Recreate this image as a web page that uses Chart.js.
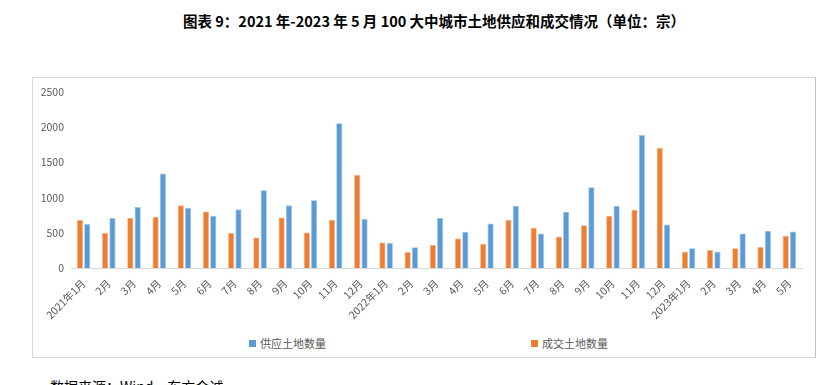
<!DOCTYPE html>
<html>
<head>
<meta charset="utf-8">
<script src="https://cdn.jsdelivr.net/npm/chart.js@4.4.1/dist/chart.umd.min.js"></script>
<style>
  body { margin: 0; background: #fff; width: 827px; height: 385px; overflow: hidden; position: relative;
         font-family: "Noto Sans CJK SC", "Noto Sans", sans-serif; }
  #title { position: absolute; left: 183px; top: 10px; font-size: 14.5px; font-weight: bold; color: #000; white-space: nowrap; }
  #box { position: absolute; left: 32px; top: 77px; width: 782px; height: 279px; border: 1px solid #d9d9d9; border-right-color: #bfbfbf; }
  #chart { position: absolute; left: 0; top: 0; }
  .lg { position: absolute; top: 258px; font-size: 11px; color: #595959; white-space: nowrap; line-height: 14px; }
  .lg i { display: inline-block; width: 7px; height: 7px; margin-right: 4px; vertical-align: 1px; }
  #src { position: absolute; left: 50px; top: 376px; font-size: 14px; color: #000; white-space: nowrap; }
</style>
</head>
<body>
<div id="title">图表 9：2021 年-2023 年 5 月 100 大中城市土地供应和成交情况（单位：宗）</div>
<div id="box">
  <canvas id="chart" width="782" height="250"></canvas>
  <div class="lg" style="left:216px"><i style="background:#5B9BD5"></i>供应土地数量</div>
  <div class="lg" style="left:498px"><i style="background:#ED7D31"></i>成交土地数量</div>
</div>
<div id="src">数据来源：Wind，东方金诚</div>
<script>
// 月份
var months = ['2021年1月', '2月', '3月', '4月', '5月', '6月', '7月', '8月', '9月', '10月', '11月', '12月',
    '2022年1月', '2月', '3月', '4月', '5月', '6月', '7月', '8月', '9月', '10月', '11月', '12月',
    '2023年1月', '2月', '3月', '4月', '5月'];
// 成交土地数量
var dealCount = [681, 500, 714, 724, 890, 804, 500, 433, 719, 505, 685, 1323,
    362, 228, 328, 419, 343, 681, 571, 447, 609, 743, 828, 1709,
    233, 257, 281, 300, 457];
// 供应土地数量
var supplyCount = [624, 709, 866, 1342, 857, 743, 833, 1104, 890, 962, 2056, 695,
    357, 295, 709, 514, 633, 885, 490, 800, 1147, 885, 1890, 619,
    281, 233, 490, 524, 519];
var yTicks = [0, 500, 1000, 1500, 2000, 2500];

var tickFont = { family: '"Noto Sans CJK SC", "Noto Sans", sans-serif', size: 10.5 };

new Chart(document.getElementById('chart'), {
    type: 'bar',
    data: {
        labels: months,
        datasets: [{
            label: '成交土地数量',
            data: dealCount,
            backgroundColor: '#ED7D31',
            borderColor: '#F4B183',
            borderWidth: 0.8,
            categoryPercentage: 0.58,
            barPercentage: 0.85
        }, {
            label: '供应土地数量',
            data: supplyCount,
            backgroundColor: '#5B9BD5',
            borderColor: '#9DC3E6',
            borderWidth: 0.8,
            categoryPercentage: 0.58,
            barPercentage: 0.85
        }]
    },
    options: {
        responsive: false,
        animation: false,
        layout: { padding: { left: 0, right: 13, top: 14, bottom: 0 } },
        plugins: { legend: { display: false }, tooltip: { enabled: false } },
        scales: {
            x: {
                grid: { display: false, drawTicks: false },
                border: { display: true, color: '#d9d9d9', width: 1 },
                ticks: { color: '#595959', font: tickFont, maxRotation: 45, minRotation: 45, autoSkip: false, padding: 9 },
                afterFit: function (s) { s.height = 60; }
            },
            y: {
                min: 0,
                max: 2500,
                afterBuildTicks: function (s) { s.ticks = yTicks.map(function (v) { return { value: v }; }); },
                grid: { display: false, drawTicks: false },
                border: { display: false },
                ticks: { color: '#595959', font: tickFont, padding: 7, callback: function (v) { return String(v); } },
                afterFit: function (s) { s.width = 38; }
            }
        }
    }
});
</script>
</body>
</html>
